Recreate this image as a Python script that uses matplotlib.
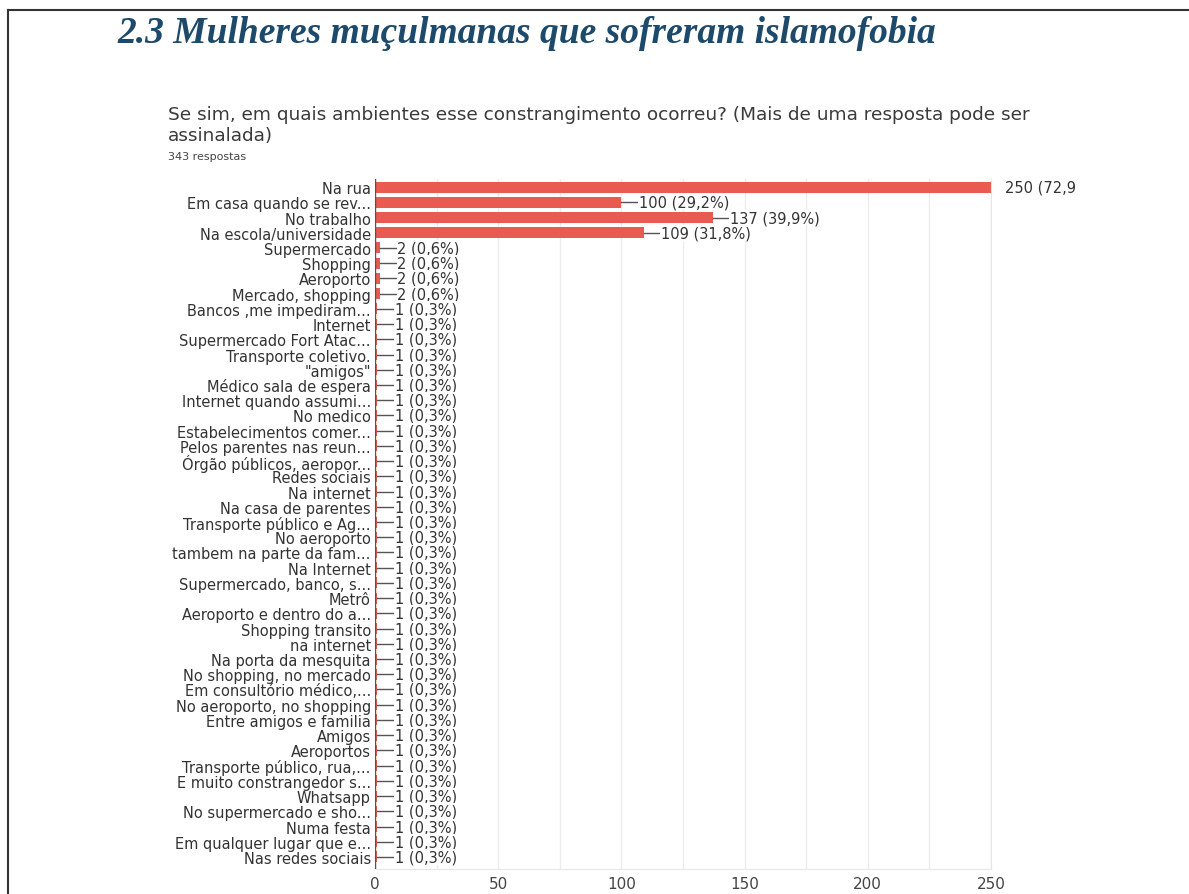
import matplotlib.pyplot as plt
from matplotlib.lines import Line2D

categories = [
    "Na rua", "Em casa quando se rev...", "No trabalho", "Na escola/universidade",
    "Supermercado", "Shopping", "Aeroporto", "Mercado, shopping",
    "Bancos ,me impediram...", "Internet", "Supermercado Fort Atac...",
    "Transporte coletivo.", "\"amigos\"", "Médico sala de espera",
    "Internet quando assumi...", "No medico", "Estabelecimentos comer...",
    "Pelos parentes nas reun...", "Órgão públicos, aeropor...", "Redes sociais",
    "Na internet", "Na casa de parentes", "Transporte público e Ag...",
    "No aeroporto", "tambem na parte da fam...", "Na Internet",
    "Supermercado, banco, s...", "Metrô", "Aeroporto e dentro do a...",
    "Shopping transito", "na internet", "Na porta da mesquita",
    "No shopping, no mercado", "Em consultório médico,...",
    "No aeroporto, no shopping", "Entre amigos e familia", "Amigos",
    "Aeroportos", "Transporte público, rua,...", "E muito constrangedor s...",
    "Whatsapp", "No supermercado e sho...", "Numa festa",
    "Em qualquer lugar que e...", "Nas redes sociais",
]
counts = [250, 100, 137, 109, 2, 2, 2, 2] + [1] * 37
percents = ["72,9", "29,2", "39,9", "31,8", "0,6", "0,6", "0,6", "0,6"] + ["0,3"] * 37
xticks = [0, 50, 100, 150, 200, 250]

W, H = 1189, 895
SANS = ["DejaVu Sans"]
SERIF = ["Liberation Serif", "DejaVu Serif"]
fig = plt.figure(figsize=(W / 100, H / 100), dpi=100)
fig.patch.set_facecolor("white")

# page frame (top and left edges only)
fig.add_artist(Line2D([8 / W, 1], [1 - 11 / H, 1 - 11 / H], color="#333333", lw=1.5))
fig.add_artist(Line2D([8 / W, 8 / W], [0, 1 - 11 / H], color="#333333", lw=1.5))

fig.text(117 / W, 1 - 43 / H, "2.3 Mulheres muçulmanas que sofreram islamofobia",
         family=SERIF, weight="bold", style="italic",
         fontsize=27, color="#1d4a6a", va="baseline")
fig.text(168 / W, 1 - 120 / H,
         "Se sim, em quais ambientes esse constrangimento ocorreu? (Mais de uma resposta pode ser",
         family=SANS, fontsize=13.3, color="#3a3a3a", va="baseline")
fig.text(168 / W, 1 - 141 / H, "assinalada)",
         family=SANS, fontsize=13.3, color="#3a3a3a", va="baseline")
fig.text(168 / W, 1 - 160 / H, "343 respostas",
         family=SANS, fontsize=8, color="#444444", va="baseline")

ax = fig.add_axes([375 / W, 25 / H, 616 / W, 690 / H])
n = len(categories)
ypos = list(range(n))
ax.barh(ypos, counts, height=0.72, color="#e95b50", zorder=2)
ax.set_xlim(0, 250)
ax.set_ylim(n - 1 + 0.79, -0.53)
ax.set_xticks(xticks)
ax.set_xticks(range(0, 251, 25), minor=True)
ax.set_yticks(ypos)
ax.set_yticklabels(categories, family=SANS, fontsize=10.5, color="#333333")
ax.tick_params(axis="y", length=0, pad=3)
ax.tick_params(axis="x", which="both", length=0, pad=5, labelsize=11, labelcolor="#444444")
for lab in ax.get_xticklabels():
    lab.set_family(SANS)
ax.grid(axis="x", which="both", color="#ececec", lw=1, zorder=0)
for side in ["top", "left"]:
    ax.spines[side].set_visible(False)
for side in ["right", "bottom"]:
    ax.spines[side].set_color("#e6e6e6")
ax.axvline(0, color="#6a4a4a", lw=1, zorder=3)

for y, c, p in zip(ypos, counts, percents):
    if c >= 250:
        ax.text(c + 5.5, y, f"{c} ({p}", va="center", ha="left", fontsize=10.5,
                family=SANS, color="#333333", clip_on=False)
        continue
    ax.plot([c, c + 6.5], [y, y], color="#555555", lw=1, zorder=3)
    ax.text(c + 7, y, f"{c} ({p}%)", va="center", ha="left", fontsize=10.5,
            family=SANS, color="#333333", zorder=4,
            bbox=dict(facecolor="white", edgecolor="none", pad=0.3))

fig.savefig("out.png", dpi=100)
